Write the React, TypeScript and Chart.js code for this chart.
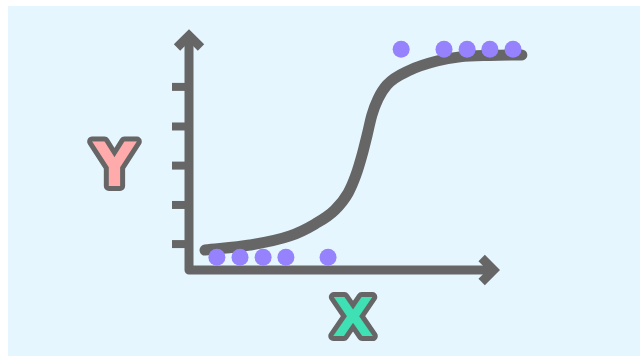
import React, { useEffect, useRef } from "react";
import { Chart, registerables } from "chart.js";

Chart.register(...registerables);

// ---- data (abstract units: x 0..10, y 0..10) ----
const lowX = [0.82, 1.5, 2.18, 2.85, 4.09];
const lowY = [0.53, 0.53, 0.53, 0.53, 0.53];
const highX = [6.24, 7.5, 8.18, 8.85, 9.53];
const highY = [9.2, 9.2, 9.2, 9.2, 9.2];

const curveX = [0.47, 1.79, 2.97, 3.71, 4.29, 4.68, 4.91, 5.09, 5.24, 5.38, 5.56, 5.82, 6.5, 7.29, 7.97, 8.85, 9.79];
const curveY = [0.83, 1.04, 1.42, 1.92, 2.5, 3.21, 3.96, 4.79, 5.63, 6.46, 7.13, 7.71, 8.33, 8.71, 8.88, 8.94, 8.96];

const yTickValues = [1.08, 2.71, 4.35, 5.98, 7.63];
const xAxisEnd = 8.96;
const yAxisEnd = 9.77;

const xLabel = "X";
const yLabel = "Y";

const GRAY = "#666666";
const PURPLE = "#9582fc";
const PINK = "#ffabab";
const TEAL = "#3ee0b4";
const BG = "#e5f6fe";

const axesPlugin = {
  id: "axesPlugin",
  beforeDatasetsDraw(chart: any) {
    const ctx = chart.ctx;
    const xs = chart.scales.x;
    const ys = chart.scales.y;
    const x0 = xs.getPixelForValue(0);
    const y0 = ys.getPixelForValue(0);
    const xt = xs.getPixelForValue(xAxisEnd);
    const yt = ys.getPixelForValue(yAxisEnd);
    ctx.save();
    ctx.strokeStyle = GRAY;
    ctx.lineWidth = 8;
    ctx.lineCap = "butt";
    for (const t of yTickValues) {
      const py = ys.getPixelForValue(t);
      ctx.beginPath();
      ctx.moveTo(x0 - 17, py);
      ctx.lineTo(x0, py);
      ctx.stroke();
    }
    ctx.lineWidth = 9;
    ctx.lineJoin = "round";
    ctx.lineCap = "butt";
    ctx.beginPath();
    ctx.moveTo(x0, yt + 2);
    ctx.lineTo(x0, y0);
    ctx.lineTo(xt - 2, y0);
    ctx.stroke();
    const a = 12;
    ctx.lineJoin = "miter";
    ctx.beginPath();
    ctx.moveTo(x0 - a, yt + a);
    ctx.lineTo(x0, yt);
    ctx.lineTo(x0 + a, yt + a);
    ctx.stroke();
    ctx.beginPath();
    ctx.moveTo(xt - a, y0 - a);
    ctx.lineTo(xt, y0);
    ctx.lineTo(xt - a, y0 + a);
    ctx.stroke();
    ctx.restore();
  },
  afterDraw(chart: any) {
    const ctx = chart.ctx;
    const area = chart.chartArea;
    const drawLetter = (text: string, cx: number, cy: number, size: number, fill: string) => {
      ctx.save();
      ctx.font = `bold ${size}px "DejaVu Sans"`;
      ctx.textAlign = "center";
      ctx.textBaseline = "alphabetic";
      const by = cy + (size * 0.729) / 2;
      ctx.lineJoin = "round";
      ctx.lineWidth = 10;
      ctx.strokeStyle = GRAY;
      ctx.strokeText(text, cx, by);
      ctx.fillStyle = fill;
      ctx.fillText(text, cx, by);
      ctx.restore();
    };
    drawLetter(yLabel, area.left - 74.5, area.top + 134.5, 60, PINK);
    drawLetter(xLabel, area.left + 164, area.bottom + 46, 54, TEAL);
  },
};

export default function App() {
  const ref = useRef<HTMLCanvasElement>(null);
  useEffect(() => {
    if (!ref.current) return;
    const chart = new Chart(ref.current, {
      type: "scatter",
      data: {
        datasets: [
          {
            label: "low",
            data: lowX.map((x, i) => ({ x, y: lowY[i] })),
            pointRadius: 8.5,
            pointHoverRadius: 8.5,
            backgroundColor: PURPLE,
            borderWidth: 0,
            clip: false,
          },
          {
            label: "high",
            data: highX.map((x, i) => ({ x, y: highY[i] })),
            pointRadius: 8.5,
            pointHoverRadius: 8.5,
            backgroundColor: PURPLE,
            borderWidth: 0,
            clip: false,
          },
          {
            type: "line",
            label: "curve",
            data: curveX.map((x, i) => ({ x, y: curveY[i] })),
            showLine: true,
            pointRadius: 0,
            borderColor: GRAY,
            borderWidth: 11,
            borderCapStyle: "round",
            borderJoinStyle: "round",
            cubicInterpolationMode: "monotone",
            fill: false,
            clip: false,
          } as any,
        ],
      },
      options: {
        animation: false,
        responsive: false,
        devicePixelRatio: 1,
        layout: { padding: { left: 189, right: 111, top: 30, bottom: 86 } },
        plugins: { legend: { display: false }, tooltip: { enabled: false } },
        events: [],
        scales: {
          x: { type: "linear", min: 0, max: 10, display: false },
          y: { type: "linear", min: 0, max: 10, display: false },
        },
      },
      plugins: [axesPlugin],
    });
    return () => chart.destroy();
  }, []);
  return (
    <div style={{ position: "fixed", left: 0, top: 0, width: 640, height: 356, background: "#ffffff" }}>
      <div style={{ position: "absolute", left: 8, top: 6, right: 0, bottom: 0, background: BG }} />
      <canvas ref={ref} width={640} height={356} style={{ position: "absolute", left: 0, top: 0, width: 640, height: 356 }} />
    </div>
  );
}
